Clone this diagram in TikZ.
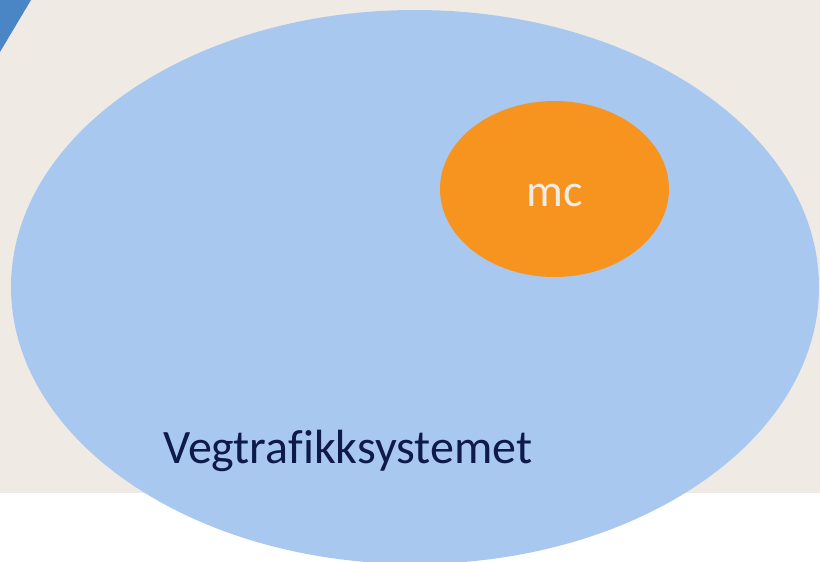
\documentclass[tikz,border=0pt]{standalone}
\usepackage{fontspec}
\setmainfont[Ligatures=NoCommon]{Carlito}
\definecolor{bgbeige}{HTML}{EFEBE4}
\definecolor{outerblue}{HTML}{A9C8EF}
\definecolor{innerorange}{HTML}{F7941F}
\definecolor{cornerblue}{HTML}{4A86C5}
\definecolor{navytext}{HTML}{0D1A4A}
\definecolor{creamtext}{HTML}{F2EDE4}
\tikzset{
  bigset/.style={ellipse, fill=outerblue, inner sep=0pt},
  smallset/.style={ellipse, fill=innerorange, inner sep=0pt},
}
\usetikzlibrary{shapes.geometric}
\begin{document}
\begin{tikzpicture}[x=1pt,y=-1pt]
\useasboundingbox (0,0) rectangle (820,562);
\clip (0,0) rectangle (820,562);
\fill[white] (0,0) rectangle (820,562);
\fill[bgbeige] (0,0) rectangle (820,493);
\fill[cornerblue] (0,0) -- (31,0) -- (0,52) -- cycle;
\node[bigset, minimum width=808pt, minimum height=554pt] (vts) at (415,287) {};
\node[smallset, minimum width=229pt, minimum height=176pt] (mc) at (554.5,189) {};
\node[text=creamtext, font=\fontsize{46}{54}\selectfont, anchor=base, inner sep=0pt] (mclabel) at ([yshift=-17pt]mc.center) {mc};
\node[text=navytext, font=\fontsize{48}{56}\selectfont, anchor=base west, inner sep=0pt] (vtslabel) at (163,463) {Vegtrafikksystemet};
\end{tikzpicture}
\end{document}
